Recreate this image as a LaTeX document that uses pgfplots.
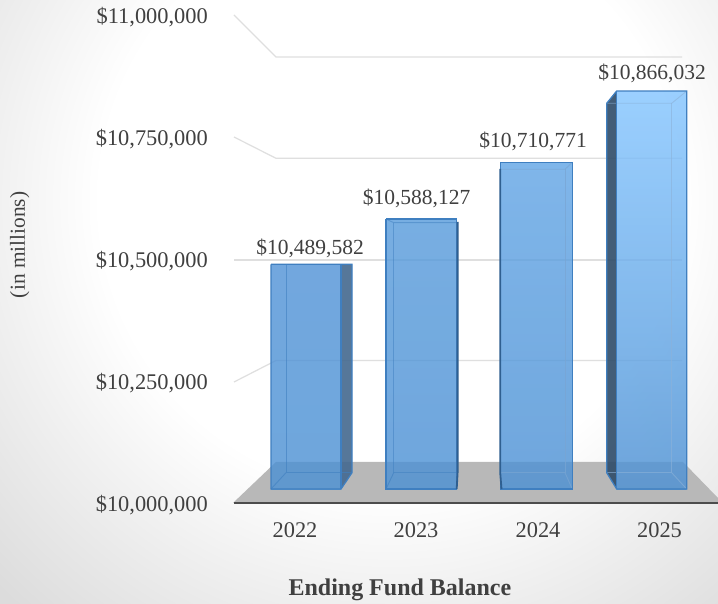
\documentclass[border=0pt]{standalone}
\usepackage{fontspec}
\setmainfont{Liberation Serif}
\usepackage{pgfplots}
\usepackage{pgfplotstable}
\pgfplotsset{compat=1.18}

\definecolor{txt}{HTML}{404040}
\definecolor{gridc}{HTML}{DFDFDF}
\definecolor{floorc}{HTML}{B8B8B8}
\definecolor{edge}{HTML}{3F7FC0}
\definecolor{barlow}{HTML}{4B90D4}
\definecolor{topA}{HTML}{4F92D6}
\definecolor{topB}{HTML}{569ADB}
\definecolor{topC}{HTML}{60A4E5}
\definecolor{topD}{HTML}{82C4FF}
\definecolor{bgA}{HTML}{F0F0F0}
\definecolor{bgB}{HTML}{DCDCDC}
\definecolor{sideA}{HTML}{44698F}
\definecolor{sideD}{HTML}{2F4C69}

% page background, white in the middle (painted on a square wider than the page)
\pgfdeclareradialshading{pagebg}{\pgfpoint{0bp}{0bp}}{%
  color(0bp)=(white);color(10.1bp)=(white);color(13.9bp)=(bgA);%
  color(19.2bp)=(bgB);color(50bp)=(bgB)}

% picture is read in pixels from the top left: x as is, p converted to dollars
% on the front edge of the chart (10.0M at p=503, 11.0M at p=15)
\newcommand{\poly}[2]{\addplot[#1] table[x=x,y expr={10000000+(503-\thisrow{p})*1000000/488},row sep=\\]{x p\\ #2};}

\pgfplotstableread[row sep=\\]{
x p label\\
310 248 10,489,582\\
416.5 198 10,588,127\\
533 141 10,710,771\\
652 73 10,866,032\\
}\barlabels

\begin{document}
\begin{tikzpicture}
\begin{axis}[
  at={(0,0)}, anchor=south west,
  scale only axis,
  width=718pt, height=603pt,
  xmin=0, xmax=718, ymin=9795081.97, ymax=11030737.7,
  axis on top,
  axis line style={draw=none},
  major tick length=0pt,
  scaled ticks=false,
  xtick={295,416,538,659.5},
  xticklabels={2022,2023,2024,2025},
  ytick={10000000,10250000,10500000,10750000,11000000},
  yticklabels={{\$10,000,000},{\$10,250,000},{\$10,500,000},{\$10,750,000},{\$11,000,000}},
  tick label style={font=\fontsize{22.4}{24}\selectfont,text=txt},
  yticklabel style={anchor=east,xshift=208pt,yshift=-2.5pt,inner sep=0pt},
  xticklabel style={anchor=center,yshift=73pt,inner sep=0pt},
  xlabel={\textbf{Ending Fund Balance}},
  xlabel style={at={(axis description cs:0.557,0.022)},anchor=center,font=\fontsize{24}{26}\selectfont,text=txt},
  ylabel={(in millions)},
  ylabel style={at={(axis description cs:0.0275,0.594)},anchor=center,font=\fontsize{21.4}{24}\selectfont,text=txt},
  clip=true,
]
\path[overlay,shading=pagebg] (rel axis cs:-0.4568,-0.522) rectangle (rel axis cs:1.5432,1.858);

% back wall and side gridlines
\poly{gridc,line width=1.2pt}{234 15\\ 276 57\\ 682 57\\}
\poly{gridc,line width=1.2pt}{234 137\\ 276 158.3\\ 682 158.3\\}
\poly{gridc,line width=1.2pt}{234 260\\ 682 260\\}
\poly{gridc,line width=1.2pt}{234 382\\ 276 360.5\\ 682 360.5\\}

% floor
\poly{draw=none,fill=floorc}{233 503\\ 276 462\\ 683 462\\ 718 498\\ 718 503\\}

% 2022
\poly{draw=none,shade,top color=topA,bottom color=barlow,opacity=0.8}{271 264.3\\ 341 264.3\\ 341 489\\ 271 489\\}
\poly{draw=none,fill=sideA,fill opacity=0.9}{341 264.3\\ 352 264.3\\ 352 472.7\\ 341 489\\}
\poly{edge,line width=0.9pt,opacity=0.6}{286 264.3\\ 286 472.7\\ 352 472.7\\}
\poly{edge,line width=0.9pt,opacity=0.6}{286 472.7\\ 271 489\\}
\poly{edge,line width=1.3pt}{271 264.3\\ 352 264.3\\ 352 472.7\\ 341 489\\ 271 489\\ 271 264.3\\}
\poly{edge,line width=1.1pt}{341 264.3\\ 341 489\\}

% 2023
\poly{draw=none,shade,top color=topB,bottom color=barlow,opacity=0.8}{386 219\\ 456.7 219\\ 456.7 489\\ 386 489\\}
\poly{edge,line width=0.9pt,opacity=0.5}{386 219\\ 393.7 222.7\\ 458 222.7\\}
\poly{edge,line width=0.9pt,opacity=0.5}{393.7 222.7\\ 393.7 472.7\\ 458 472.7\\}
\poly{edge,line width=0.9pt,opacity=0.6}{393.7 472.7\\ 386 489\\}
\poly{edge,line width=1.3pt}{386 219\\ 456.7 219\\ 456.7 489\\ 386 489\\ 386 219\\}
\poly{black!25!edge,line width=1.8pt}{457.6 222\\ 457.6 472.7\\ 456.7 489\\}

% 2024
\poly{draw=none,shade,top color=topC,bottom color=barlow,opacity=0.8}{500.7 162.3\\ 572.3 162.3\\ 572.3 489\\ 500.7 489\\}
\poly{edge!70!white,line width=0.9pt,opacity=0.7}{500.7 169.3\\ 565 169.3\\ 572.3 162.3\\}
\poly{edge!70!white,line width=0.9pt,opacity=0.7}{565 169.3\\ 565 472.7\\ 500.7 472.7\\}
\poly{edge!70!white,line width=0.9pt,opacity=0.7}{565 472.7\\ 572.3 489\\}
\poly{edge,line width=1.3pt}{500.7 162.3\\ 572.3 162.3\\ 572.3 489\\ 500.7 489\\ 500.7 162.3\\}
\poly{black!25!edge,line width=1.8pt}{500.2 169\\ 500.2 472.7\\ 501.5 489\\}

% 2025
\poly{draw=none,shade,top color=topD,bottom color=barlow,opacity=0.8}{616.7 91\\ 686.7 91\\ 686.7 489\\ 616.7 489\\}
\poly{draw=none,fill=sideD,fill opacity=0.9}{606.7 103.3\\ 616.7 91\\ 616.7 489\\ 606.7 472.7\\}
\poly{edge!60!white,line width=0.9pt,opacity=0.6}{606.7 103.3\\ 671.7 103.3\\ 686.7 91\\}
\poly{edge!60!white,line width=0.9pt,opacity=0.6}{671.7 103.3\\ 671.7 472.7\\ 606.7 472.7\\}
\poly{edge!60!white,line width=0.9pt,opacity=0.6}{671.7 472.7\\ 686.7 489\\}
\poly{edge,line width=1.3pt}{606.7 103.3\\ 616.7 91\\ 686.7 91\\ 686.7 489\\ 616.7 489\\ 606.7 472.7\\ 606.7 103.3\\}
\poly{edge,line width=1.1pt}{616.7 91\\ 616.7 489\\}

% front edge of the floor
\poly{black!70,line width=1.8pt}{234 503\\ 718 503\\}

% value labels
\addplot[only marks,mark=none,
  point meta=explicit symbolic,
  nodes near coords={\$\pgfplotspointmeta},
  every node near coord/.style={anchor=center,inner sep=0pt,text=txt,font=\fontsize{21.5}{24}\selectfont},
] table[x=x,y expr={10000000+(503-\thisrow{p})*1000000/488},meta=label] {\barlabels};
\end{axis}
\pgfresetboundingbox
\path[use as bounding box] (0,0) rectangle (718pt,603pt);
\end{tikzpicture}
\end{document}
